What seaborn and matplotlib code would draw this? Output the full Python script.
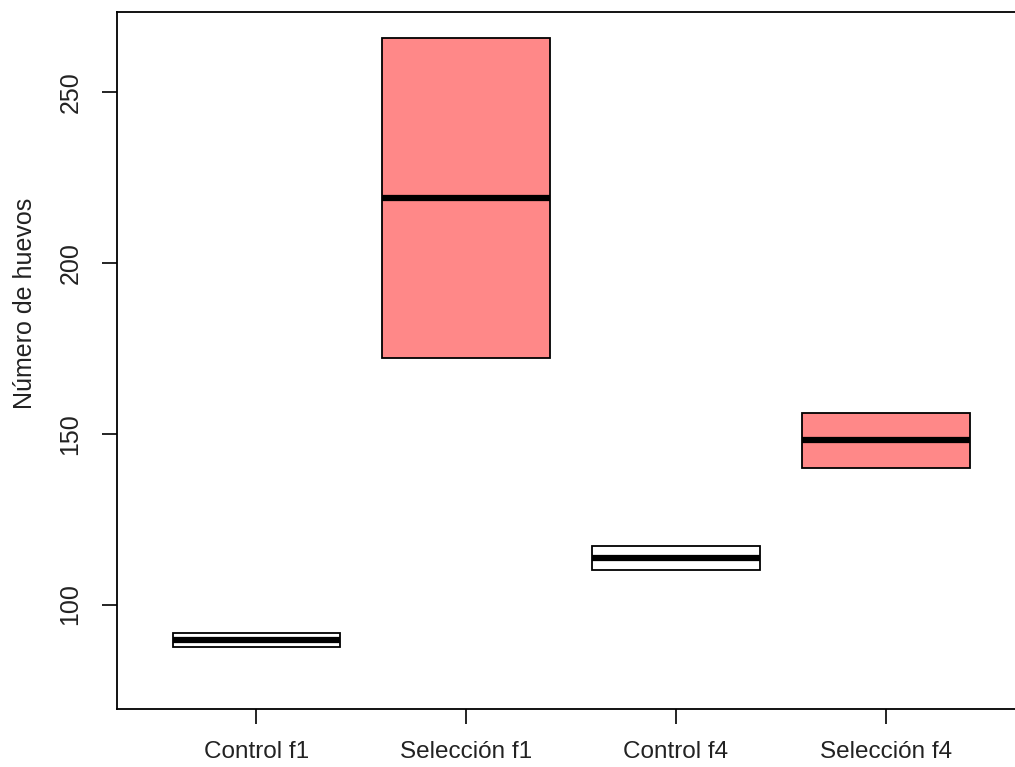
import numpy as np
import pandas as pd
import matplotlib
matplotlib.use('Agg')
import matplotlib.pyplot as plt
import seaborn as sns

# datos (n = 2 por grupo)
grupos = ['Control f1', 'Selección f1', 'Control f4', 'Selección f4']
minimo = [87.7, 172.1, 110.1, 140.1]
maximo = [91.6, 265.9, 117.1, 156.2]
colores = ['white', '#FF8888', 'white', '#FF8888']
y_ticks = [100, 150, 200, 250]

# en R con n=2 las bisagras son el min y el max,
# se duplica cada valor para que matplotlib de las mismas cajas
filas = []
for g, lo, hi in zip(grupos, minimo, maximo):
    for v in [lo, lo, hi, hi]:
        filas.append({'grupo': g, 'huevos': v})
df = pd.DataFrame(filas)

sns.set_theme(style='ticks')
plt.rcParams['font.family'] = ['Liberation Sans', 'DejaVu Sans']

fig = plt.figure(figsize=(10.15, 7.67), dpi=100)
W, H = 1015, 767
ax = fig.add_axes([117 / W, (H - 709) / H, 906 / W, 697 / H])

sns.boxplot(data=df, x='grupo', y='huevos', hue='grupo',
            palette=colores, saturation=1, width=0.8,
            linewidth=1.3, linecolor='black', showcaps=False,
            whis=1.5, showfliers=False, legend=False,
            medianprops={'linewidth': 4.5, 'color': 'black'},
            ax=ax)

ax.set_xlim(-0.665, 3.655)
ax.set_ylim(69.4, 273.5)
ax.set_yticks(y_ticks)
ax.set_xlabel('')
ax.set_ylabel('Número de huevos', fontsize=18, color='#222222')
ax.yaxis.set_label_coords(-0.088, 0.582)

for s in ax.spines.values():
    s.set_visible(True)
    s.set_color('black')
    s.set_linewidth(1.3)

ax.tick_params(axis='both', which='major', bottom=True, left=True,
               direction='out', length=10.8, width=1.2,
               color='black', labelsize=17.5, labelcolor='#222222')
ax.tick_params(axis='x', pad=12)
ax.tick_params(axis='y', pad=14, labelrotation=90, labelsize=18)
for lab in ax.get_yticklabels():
    lab.set_va('center')

fig.savefig('out.png', dpi=100)
